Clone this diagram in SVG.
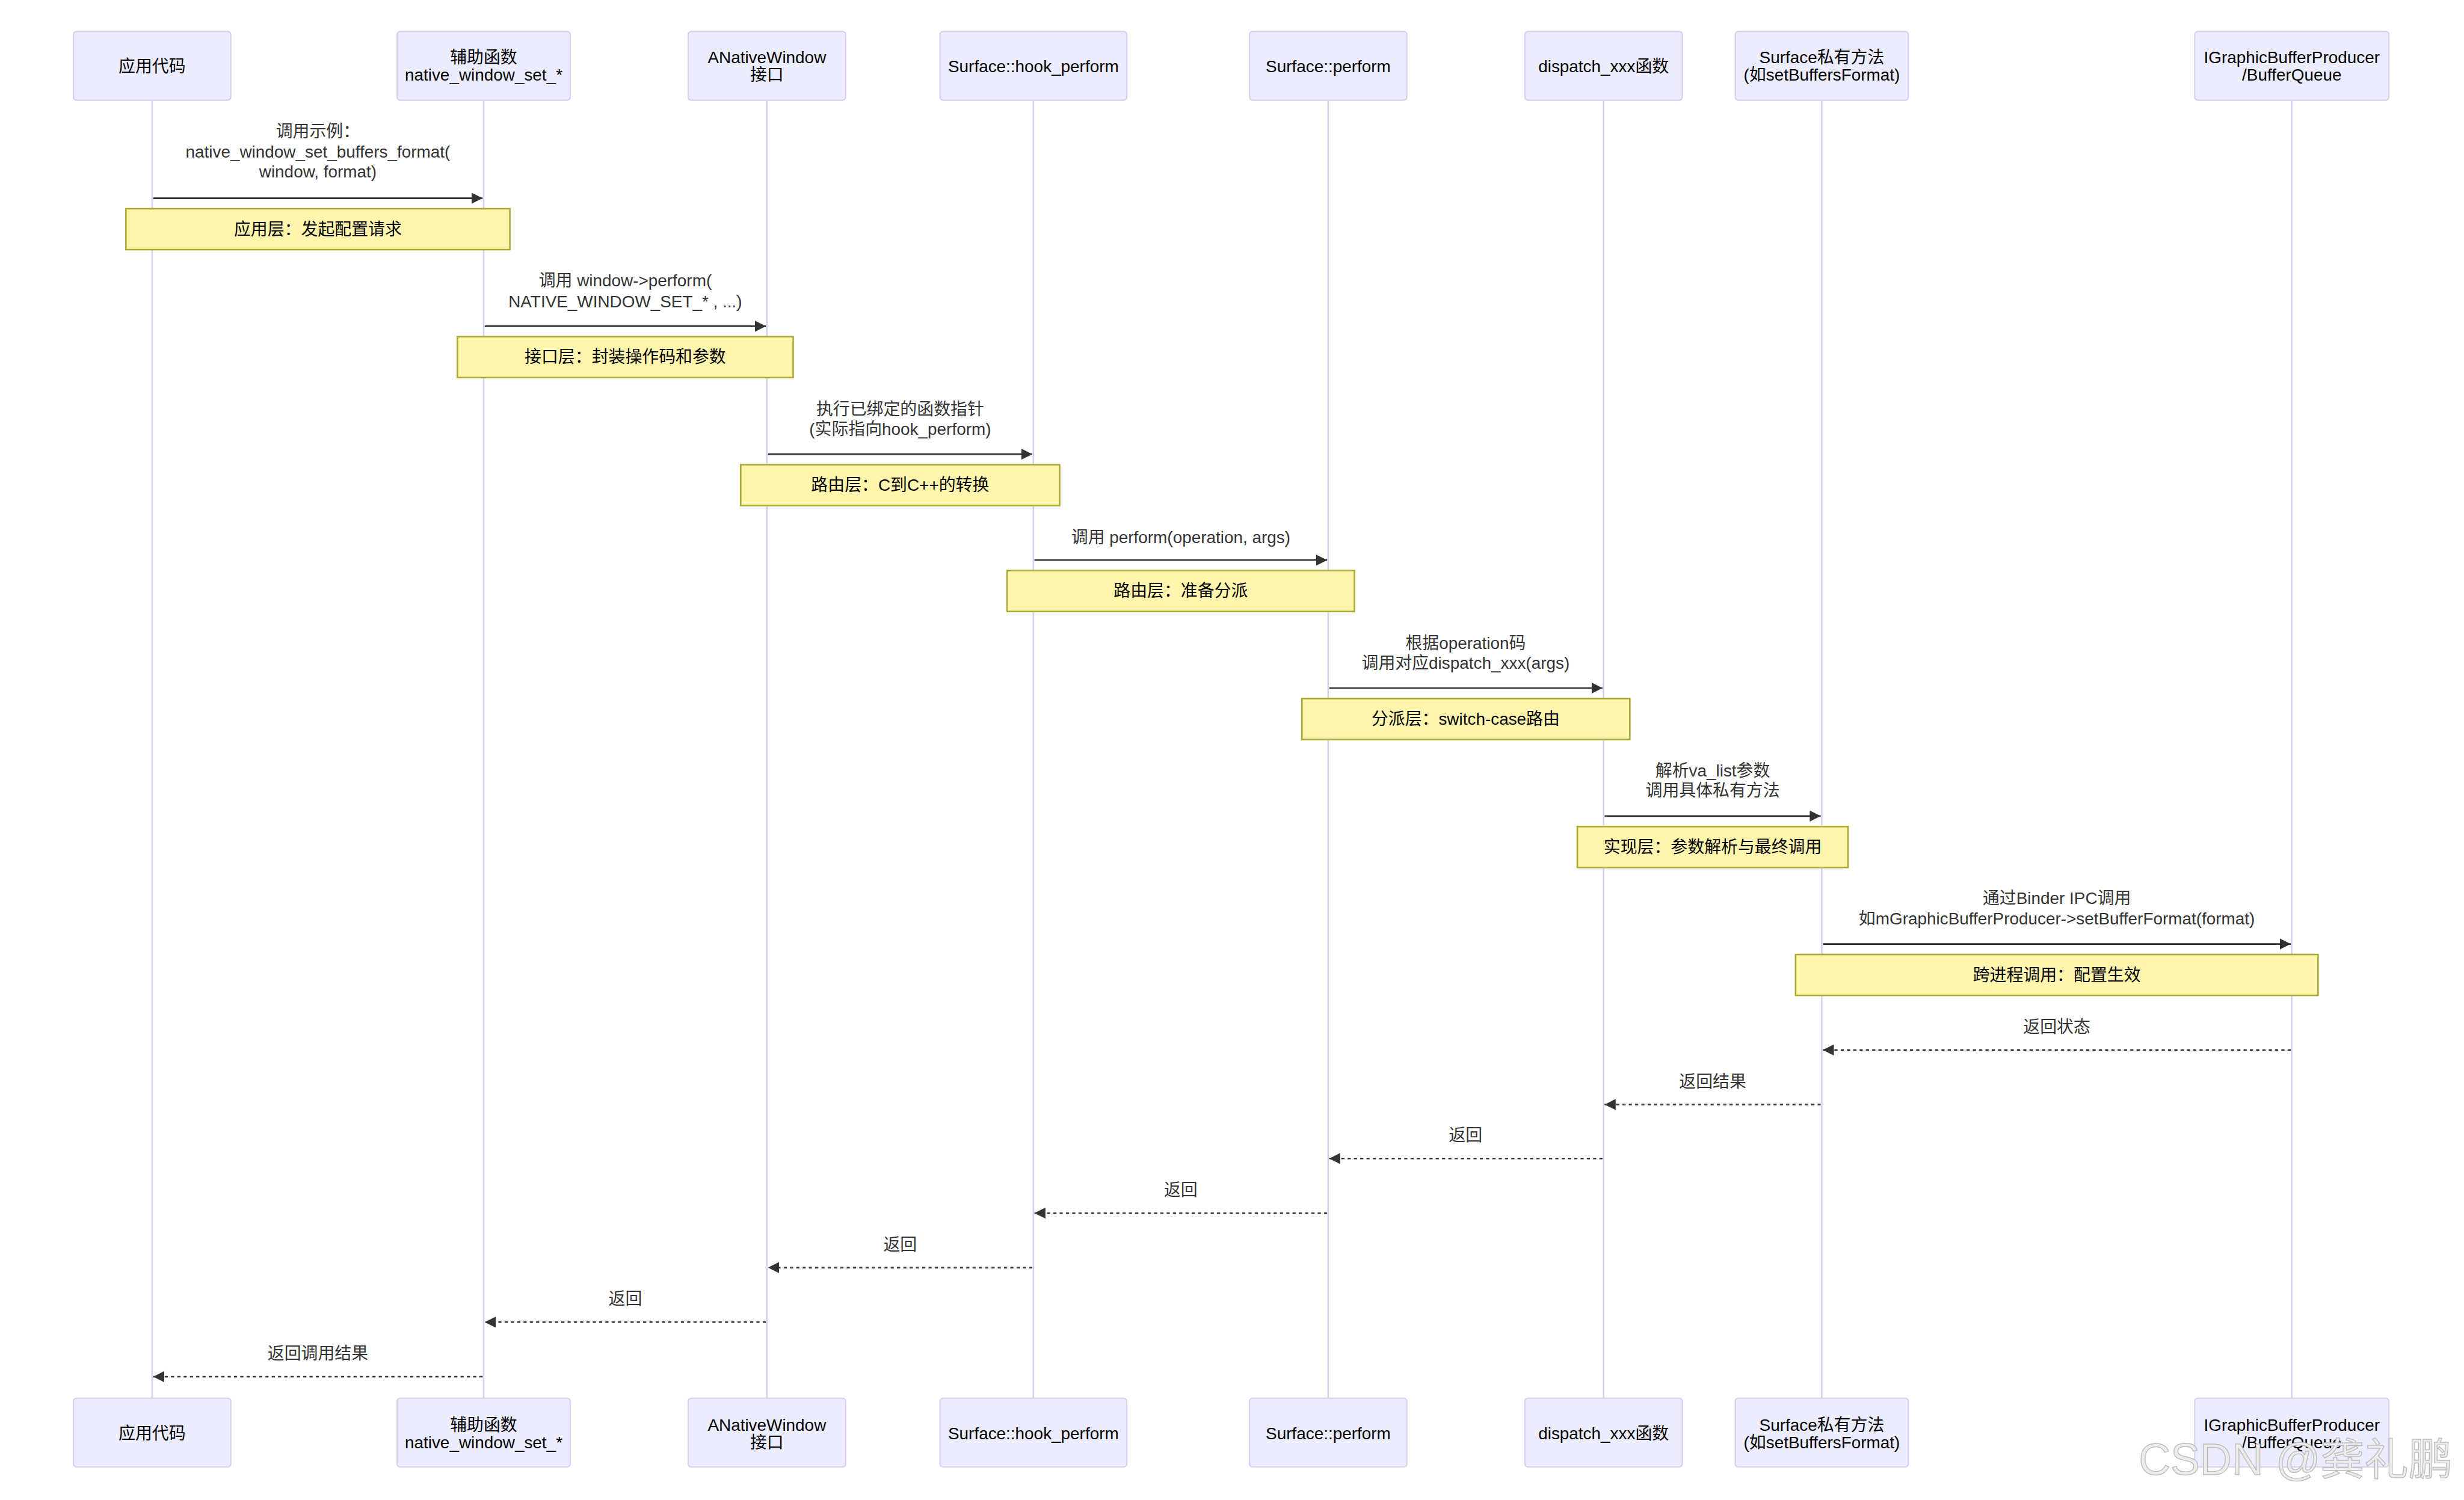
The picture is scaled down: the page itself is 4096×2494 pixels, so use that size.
<svg xmlns="http://www.w3.org/2000/svg" width="4096" height="2494" viewBox="0 0 4096 2494">
<style>
text{font-family:"Liberation Sans","Noto Sans CJK SC",sans-serif;font-size:32px;text-anchor:middle;dominant-baseline:central}
.actor{fill:#ECECFF;stroke:#D8CEF3;stroke-width:2.5}
.atext{fill:#000}
.life{stroke:#D8CEF3;stroke-width:3}
.note{fill:#FFF5AD;stroke:#AAAA33;stroke-width:3}
.ntext{fill:#000}
.mtext{fill:#333}
.msg{stroke:#333;stroke-width:3;fill:none;marker-end:url(#ah)}
.ret{stroke:#333;stroke-width:3;fill:none;stroke-dasharray:6 6;marker-end:url(#ah)}
.wm{font-family:"Liberation Sans","Noto Sans CJK SC",sans-serif;font-size:84px;text-anchor:start;dominant-baseline:alphabetic;fill:#ececec;stroke:#bdbdbd;stroke-width:1.6}
</style>
<defs>
<marker id="ah" markerUnits="userSpaceOnUse" markerWidth="22" markerHeight="22" refX="21" refY="10.5" orient="auto">
<path d="M0,0 L21,10.5 L0,21 z" fill="#333"/>
</marker>
</defs>
<rect width="4096" height="2494" fill="#fff"/>
<g transform="scale(0.872)">
<g id="lifelines">
<line class="life" x1="290" y1="191" x2="290" y2="2666"/>
<line class="life" x1="922" y1="191" x2="922" y2="2666"/>
<line class="life" x1="1462" y1="191" x2="1462" y2="2666"/>
<line class="life" x1="1970" y1="191" x2="1970" y2="2666"/>
<line class="life" x1="2532" y1="191" x2="2532" y2="2666"/>
<line class="life" x1="3057" y1="191" x2="3057" y2="2666"/>
<line class="life" x1="3473" y1="191" x2="3473" y2="2666"/>
<line class="life" x1="4369" y1="191" x2="4369" y2="2666"/>
</g>
<g id="actor-app">
<rect class="actor" x="140" y="60" width="300" height="131" rx="6"/>
<text class="atext" x="290" y="127">应用代码</text>
<rect class="actor" x="140" y="2666" width="300" height="131" rx="6"/>
<text class="atext" x="290" y="2733">应用代码</text>
</g>
<g id="actor-helper">
<rect class="actor" x="757" y="60" width="330" height="131" rx="6"/>
<text class="atext" x="922" y="110">辅助函数</text>
<text class="atext" x="922" y="143">native_window_set_*</text>
<rect class="actor" x="757" y="2666" width="330" height="131" rx="6"/>
<text class="atext" x="922" y="2717">辅助函数</text>
<text class="atext" x="922" y="2750">native_window_set_*</text>
</g>
<g id="actor-anw">
<rect class="actor" x="1312" y="60" width="300" height="131" rx="6"/>
<text class="atext" x="1462" y="110">ANativeWindow</text>
<text class="atext" x="1462" y="143">接口</text>
<rect class="actor" x="1312" y="2666" width="300" height="131" rx="6"/>
<text class="atext" x="1462" y="2717">ANativeWindow</text>
<text class="atext" x="1462" y="2750">接口</text>
</g>
<g id="actor-hook">
<rect class="actor" x="1792" y="60" width="356" height="131" rx="6"/>
<text class="atext" x="1970" y="127">Surface::hook_perform</text>
<rect class="actor" x="1792" y="2666" width="356" height="131" rx="6"/>
<text class="atext" x="1970" y="2733">Surface::hook_perform</text>
</g>
<g id="actor-perform">
<rect class="actor" x="2382" y="60" width="300" height="131" rx="6"/>
<text class="atext" x="2532" y="127">Surface::perform</text>
<rect class="actor" x="2382" y="2666" width="300" height="131" rx="6"/>
<text class="atext" x="2532" y="2733">Surface::perform</text>
</g>
<g id="actor-dispatch">
<rect class="actor" x="2907" y="60" width="300" height="131" rx="6"/>
<text class="atext" x="3057" y="127">dispatch_xxx函数</text>
<rect class="actor" x="2907" y="2666" width="300" height="131" rx="6"/>
<text class="atext" x="3057" y="2733">dispatch_xxx函数</text>
</g>
<g id="actor-private">
<rect class="actor" x="3308" y="60" width="330" height="131" rx="6"/>
<text class="atext" x="3473" y="110">Surface私有方法</text>
<text class="atext" x="3473" y="143">(如setBuffersFormat)</text>
<rect class="actor" x="3308" y="2666" width="330" height="131" rx="6"/>
<text class="atext" x="3473" y="2717">Surface私有方法</text>
<text class="atext" x="3473" y="2750">(如setBuffersFormat)</text>
</g>
<g id="actor-igbp">
<rect class="actor" x="4184" y="60" width="370" height="131" rx="6"/>
<text class="atext" x="4369" y="110">IGraphicBufferProducer</text>
<text class="atext" x="4369" y="143">/BufferQueue</text>
<rect class="actor" x="4184" y="2666" width="370" height="131" rx="6"/>
<text class="atext" x="4369" y="2717">IGraphicBufferProducer</text>
<text class="atext" x="4369" y="2750">/BufferQueue</text>
</g>
<g id="connectors">
<path class="msg" d="M292,378 H920"/>
<path class="msg" d="M924,622 H1460"/>
<path class="msg" d="M1464,866 H1968"/>
<path class="msg" d="M1972,1068 H2530"/>
<path class="msg" d="M2534,1312 H3055"/>
<path class="msg" d="M3059,1556 H3471"/>
<path class="msg" d="M3475,1800 H4367"/>
<path class="ret" d="M4367,2002 H3475"/>
<path class="ret" d="M3471,2106 H3059"/>
<path class="ret" d="M3055,2209 H2534"/>
<path class="ret" d="M2530,2313 H1972"/>
<path class="ret" d="M1968,2417 H1464"/>
<path class="ret" d="M1460,2521 H924"/>
<path class="ret" d="M920,2625 H292"/>
<text class="mtext" x="606" y="250">调用示例：</text>
<text class="mtext" x="606" y="289">native_window_set_buffers_format(</text>
<text class="mtext" x="606" y="327">window, format)</text>
<text class="mtext" x="1192" y="535">调用 window-&gt;perform(</text>
<text class="mtext" x="1192" y="575">NATIVE_WINDOW_SET_* , ...)</text>
<text class="mtext" x="1716" y="780">执行已绑定的函数指针</text>
<text class="mtext" x="1716" y="818">(实际指向hook_perform)</text>
<text class="mtext" x="2251" y="1025">调用 perform(operation, args)</text>
<text class="mtext" x="2794" y="1226">根据operation码</text>
<text class="mtext" x="2794" y="1264">调用对应dispatch_xxx(args)</text>
<text class="mtext" x="3265" y="1470">解析va_list参数</text>
<text class="mtext" x="3265" y="1508">调用具体私有方法</text>
<text class="mtext" x="3921" y="1713">通过Binder IPC调用</text>
<text class="mtext" x="3921" y="1752">如mGraphicBufferProducer-&gt;setBufferFormat(format)</text>
<text class="mtext" x="3921" y="1958">返回状态</text>
<text class="mtext" x="3265" y="2062">返回结果</text>
<text class="mtext" x="2794" y="2165">返回</text>
<text class="mtext" x="2251" y="2269">返回</text>
<text class="mtext" x="1716" y="2373">返回</text>
<text class="mtext" x="1192" y="2477">返回</text>
<text class="mtext" x="606" y="2581">返回调用结果</text>
</g>
<g id="note-1">
<rect class="note" x="240" y="398" width="732" height="78"/>
<text class="ntext" x="606" y="437">应用层：发起配置请求</text>
</g>
<g id="note-2">
<rect class="note" x="872" y="642" width="640" height="78"/>
<text class="ntext" x="1192" y="681">接口层：封装操作码和参数</text>
</g>
<g id="note-3">
<rect class="note" x="1412" y="886" width="608" height="78"/>
<text class="ntext" x="1716" y="925">路由层：C到C++的转换</text>
</g>
<g id="note-4">
<rect class="note" x="1920" y="1088" width="662" height="78"/>
<text class="ntext" x="2251" y="1127">路由层：准备分派</text>
</g>
<g id="note-5">
<rect class="note" x="2482" y="1332" width="625" height="78"/>
<text class="ntext" x="2794" y="1371">分派层：switch-case路由</text>
</g>
<g id="note-6">
<rect class="note" x="3007" y="1576" width="516" height="78"/>
<text class="ntext" x="3265" y="1615">实现层：参数解析与最终调用</text>
</g>
<g id="note-7">
<rect class="note" x="3423" y="1820" width="996" height="78"/>
<text class="ntext" x="3921" y="1859">跨进程调用：配置生效</text>
</g>
<text class="wm" x="4077" y="2812">CSDN @龚礼鹏</text>
</g>
</svg>
